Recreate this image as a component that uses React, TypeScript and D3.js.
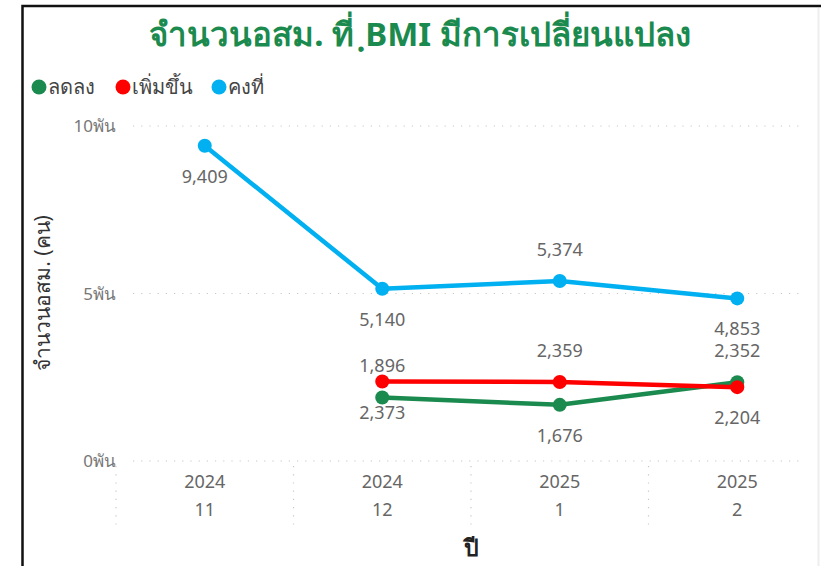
import React from "react";
import * as d3 from "d3";

const categories = ["2024|11", "2024|12", "2025|1", "2025|2"];
const yearLabels = ["2024", "2024", "2025", "2025"];
const monthLabels = ["11", "12", "1", "2"];
const seriesNames = ["ลดลง", "เพิ่มขึ้น", "คงที่"];
const decreased: (number | null)[] = [null, 1896, 1676, 2352];
const increased: (number | null)[] = [null, 2373, 2359, 2204];
const unchanged: (number | null)[] = [9409, 5140, 5374, 4853];
const decreasedLabelSide = ["", "above", "below", "above"];
const increasedLabelSide = ["", "below", "above", "below"];
const unchangedLabelSide = ["below", "below", "above", "below"];
const yTicks = [0, 5000, 10000];
const yTickLabels = ["0พัน", "5พัน", "10พัน"];
const title = "จำนวนอสม. ที่ ฺBMI มีการเปลี่ยนแปลง";
const yTitle = "จำนวนอสม. (คน)";
const xTitle = "ปี";

const colors = ["#1B8A4E", "#FF0000", "#00B0F0"];
const FONT = "'Segoe UI', 'Noto Sans', 'Open Sans', sans-serif";

export default function App() {
  const W = 821, H = 566;
  const x = d3.scaleBand<string>().domain(categories).range([116, 826]);
  const y = d3.scaleLinear().domain([0, 10000]).range([461, 126]);
  const cx = (i: number) => (x(categories[i]) as number) + x.bandwidth() / 2;
  const line = d3
    .line<number | null>()
    .defined((d) => d != null)
    .x((_, i) => cx(i))
    .y((d) => y(d as number));
  const series = [
    { name: seriesNames[0], values: decreased, side: decreasedLabelSide, color: colors[0] },
    { name: seriesNames[1], values: increased, side: increasedLabelSide, color: colors[1] },
    { name: seriesNames[2], values: unchanged, side: unchangedLabelSide, color: colors[2] },
  ];
  const fmt = d3.format(",");
  const legendX = [39, 123, 219];

  return (
    <svg width={W} height={H} style={{ position: "absolute", left: 0, top: 0, background: "#fff" }}>
      <rect x={0} y={0} width={W} height={H} fill="#fff" />
      <line x1={818.5} x2={818.5} y1={8} y2={H} stroke="#eee" strokeWidth={2} />
      <rect x={22.5} y={6} width={810} height={600} fill="none" stroke="#111" strokeWidth={2.5} />
      <text x={420} y={46} textAnchor="middle" fontFamily={FONT} fontWeight="bold" fontSize={33} fill="#1B8A4E">
        {title}
      </text>
      {series.map((s, i) => (
        <g key={s.name}>
          <circle cx={legendX[i]} cy={87} r={7.5} fill={s.color} />
          <text x={legendX[i] + 9} y={94} fontFamily={FONT} fontSize={20} fill="#444">
            {s.name}
          </text>
        </g>
      ))}
      {yTicks.map((t, i) => (
        <g key={t}>
          <line x1={133} x2={803} y1={y(t)} y2={y(t)} stroke="#c8c8c8" strokeWidth={1.2} strokeDasharray="1.2,7" />
          <text x={116} y={y(t) + 6} textAnchor="end" fontFamily={FONT} fontSize={17} fill="#777">
            {yTickLabels[i]}
          </text>
        </g>
      ))}
      {categories.map((c, i) => (
        <g key={c}>
          <line x1={x(c)} x2={x(c)} y1={466} y2={526} stroke="#c8c8c8" strokeWidth={1.2} strokeDasharray="1.2,7" />
          <text x={cx(i)} y={488} textAnchor="middle" fontFamily={FONT} fontSize={18} fill="#666">
            {yearLabels[i]}
          </text>
          <text x={cx(i)} y={516} textAnchor="middle" fontFamily={FONT} fontSize={18} fill="#666">
            {monthLabels[i]}
          </text>
        </g>
      ))}
      <text x={471} y={556} textAnchor="middle" fontFamily={FONT} fontWeight="bold" fontSize={23} fill="#222">
        {xTitle}
      </text>
      <text transform={`translate(50,293) rotate(-90)`} textAnchor="middle" fontFamily={FONT} fontSize={21} fill="#333">
        {yTitle}
      </text>
      {[series[2], series[0], series[1]].map((s) => (
        <g key={s.name}>
          <path d={line(s.values) || ""} fill="none" stroke={s.color} strokeWidth={4.5} strokeLinejoin="round" strokeLinecap="round" />
          {s.values.map((v, i) =>
            v == null ? null : <circle key={i} cx={cx(i)} cy={y(v)} r={7} fill={s.color} />
          )}
        </g>
      ))}
      {series.map((s) =>
        s.values.map((v, i) =>
          v == null ? null : (
            <text
              key={s.name + i}
              x={cx(i)}
              y={y(v) + (s.side[i] === "above" ? -31 : 31) + 6}
              textAnchor="middle"
              fontFamily={FONT}
              fontSize={18}
              fill="#666"
            >
              {fmt(v)}
            </text>
          )
        )
      )}
    </svg>
  );
}
